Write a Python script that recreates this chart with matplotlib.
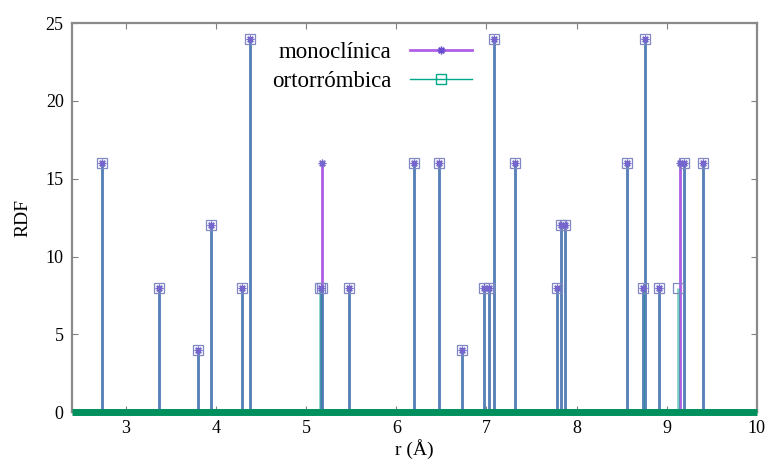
import matplotlib
matplotlib.use("Agg")
import matplotlib.pyplot as plt
from matplotlib.lines import Line2D

# radial distribution peaks (distance in angstrom, coordination count)
mono_r = [2.73, 3.36, 3.80, 3.94, 4.29, 4.37, 5.16, 5.18, 5.47, 6.20, 6.47, 6.73, 6.97,
          7.03, 7.08, 7.32, 7.78, 7.83, 7.87, 8.56, 8.74, 8.76, 8.92, 9.15, 9.19, 9.40]
mono_g = [16, 8, 4, 12, 8, 24, 8, 16, 8, 16, 16, 4, 8,
          8, 24, 16, 8, 12, 12, 16, 8, 24, 8, 16, 16, 16]
orto_r = [2.73, 3.36, 3.80, 3.94, 4.29, 4.37, 5.15, 5.17, 5.47, 6.20, 6.47, 6.73, 6.97,
          7.03, 7.08, 7.32, 7.78, 7.83, 7.87, 8.56, 8.74, 8.76, 8.92, 9.13, 9.19, 9.40]
orto_g = [16, 8, 4, 12, 8, 24, 8, 8, 8, 16, 16, 4, 8,
          8, 24, 16, 8, 12, 12, 16, 8, 24, 8, 8, 16, 16]

xticks = [3, 4, 5, 6, 7, 8, 9, 10]
yticks = [0, 5, 10, 15, 20, 25]

violet = "#a040e0"
green = "#00a88a"
star = (8, 2, 0)

plt.rcParams['font.family'] = ['Liberation Serif', 'DejaVu Serif']

fig, ax = plt.subplots(figsize=(7.66, 4.61), dpi=100)
fig.subplots_adjust(left=0.094, right=0.988, top=0.950, bottom=0.106)

# impulses: monoclinic underneath, orthorhombic blended on top
ax.vlines(mono_r, 0, mono_g, color=violet, lw=2.0, alpha=0.85, zorder=2)
ax.vlines(orto_r, 0, orto_g, color=green, lw=2.0, alpha=0.5, zorder=3)
ax.plot(orto_r, orto_g, ls='none', marker='s', ms=6.5, mfc='none', mew=0.9,
        color="#8088c4", zorder=4)
ax.plot(mono_r, mono_g, ls='none', marker=star, ms=5.5, mew=0.9,
        color="#7466cc", zorder=5)

# thick baseline at zero
ax.axhline(0, color="#00905e", lw=5, zorder=6, solid_capstyle='butt', clip_on=False)

ax.set_xlim(2.4, 10)
ax.set_ylim(0, 25)
ax.set_xticks(xticks)
ax.set_yticks(yticks)
ax.tick_params(direction='in', length=4, width=0.8, color="#808080",
               labelsize=13, top=True, right=True, pad=6)
ax.tick_params(axis='y', labelleft=True, labelright=False)
ax.tick_params(axis='x', labeltop=False)
for sp in ax.spines.values():
    sp.set_color("#8a8a8a")
    sp.set_linewidth(1.6)

ax.set_xlabel("r (Å)", fontsize=14, labelpad=1)
ax.set_ylabel("RDF", fontsize=14, labelpad=10)

handles = [
    Line2D([], [], color="#b060e8", lw=2.0, marker=star, ms=5.5, mec="#6a4fd0"),
    Line2D([], [], color=green, lw=1.0, marker='s', ms=6.5, mfc='none', mec=green),
]
ax.legend(handles, ["monoclínica", "ortorrómbica"], loc='upper right',
          bbox_to_anchor=(0.614, 1.005), frameon=False, markerfirst=False,
          fontsize=16.5, handlelength=2.7, labelspacing=0.35, handletextpad=0.8)

fig.savefig("out.png", dpi=100)
